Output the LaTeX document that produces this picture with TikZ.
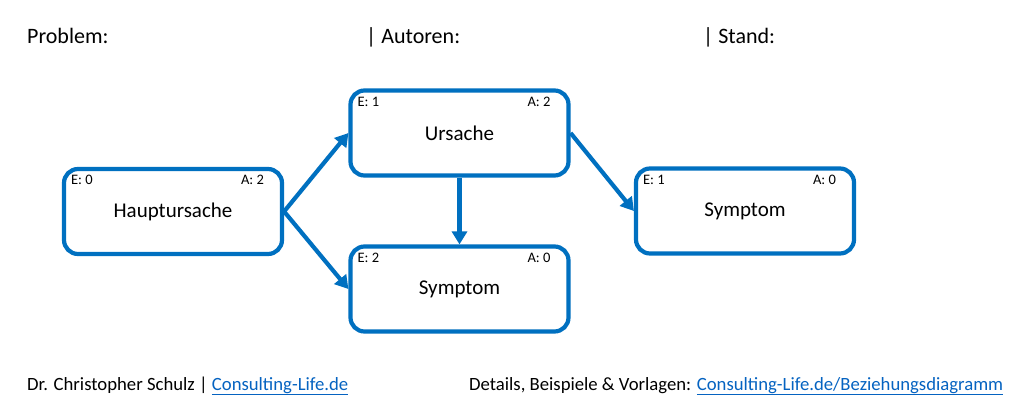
\documentclass[tikz,border=0pt]{standalone}
\usepackage{fontspec}
\setmainfont{Carlito}
\usetikzlibrary{arrows.meta,calc}
\definecolor{boxblue}{HTML}{0070C0}
\definecolor{linkblue}{HTML}{0563C1}
\tikzset{
  relbox/.style={draw=boxblue, line width=4.2pt, rounded corners=14pt, fill=white,
    minimum width=218pt, minimum height=85pt, inner sep=0pt,
    font=\fontsize{21}{24}\selectfont},
  tag/.style={inner sep=0pt, font=\fontsize{14.5}{16}\selectfont},
  conn/.style={draw=boxblue, line width=4.2pt, -{Triangle[length=13pt,width=15pt]}},
  head/.style={anchor=base west, inner sep=0pt, font=\fontsize{22}{25}\selectfont},
  foot/.style={anchor=base west, inner sep=0pt, font=\fontsize{18.7}{22}\selectfont},
  link/.style={text=linkblue}
}
\newcommand{\lnk}[1]{\underline{#1}}
\begin{document}
\begin{tikzpicture}[x=1pt,y=-1pt]
\useasboundingbox[fill=white] (0,0) rectangle (1024,413);
% header
\node[head] (hprob) at (27,43) {Problem:};
\node[head] (haut) at (366,43) {| Autoren:};
\node[head] (hstand) at (703,43) {| Stand:};
% boxes
\node[relbox] (b1) at (173,211.5) {Hauptursache};
\node[relbox] (b2) at (459.5,133) {Ursache};
\node[relbox] (b3) at (459.5,289) {Symptom};
\node[relbox] (b4) at (745,211) {Symptom};
% tags
\foreach \b/\e/\a in {b1/0/2, b2/1/2, b3/2/0, b4/1/0}{
  \node[tag, anchor=base west] (\b e) at ($(\b.north west)+(9,18)$) {E: \e};
  \node[tag, anchor=base east] (\b a) at ($(\b.north east)+(-20,18)$) {A: \a};
}
% connectors
\draw[conn] (b1.east) -- (b2.west);
\draw[conn] (b1.east) -- (b3.west);
\draw[conn] (b2.south) -- (b3.north);
\draw[conn] (b2.east) -- (b4.west);
% footer
\node[foot] (fauth) at (27,390) {Dr. Christopher Schulz | \textcolor{linkblue}{\lnk{Consulting-Life.de}}};
\node[foot] (fdet) at (469,390) {Details, Beispiele \& Vorlagen: \textcolor{linkblue}{\lnk{Consulting-Life.de/Beziehungsdiagramm}}};
\end{tikzpicture}
\end{document}
